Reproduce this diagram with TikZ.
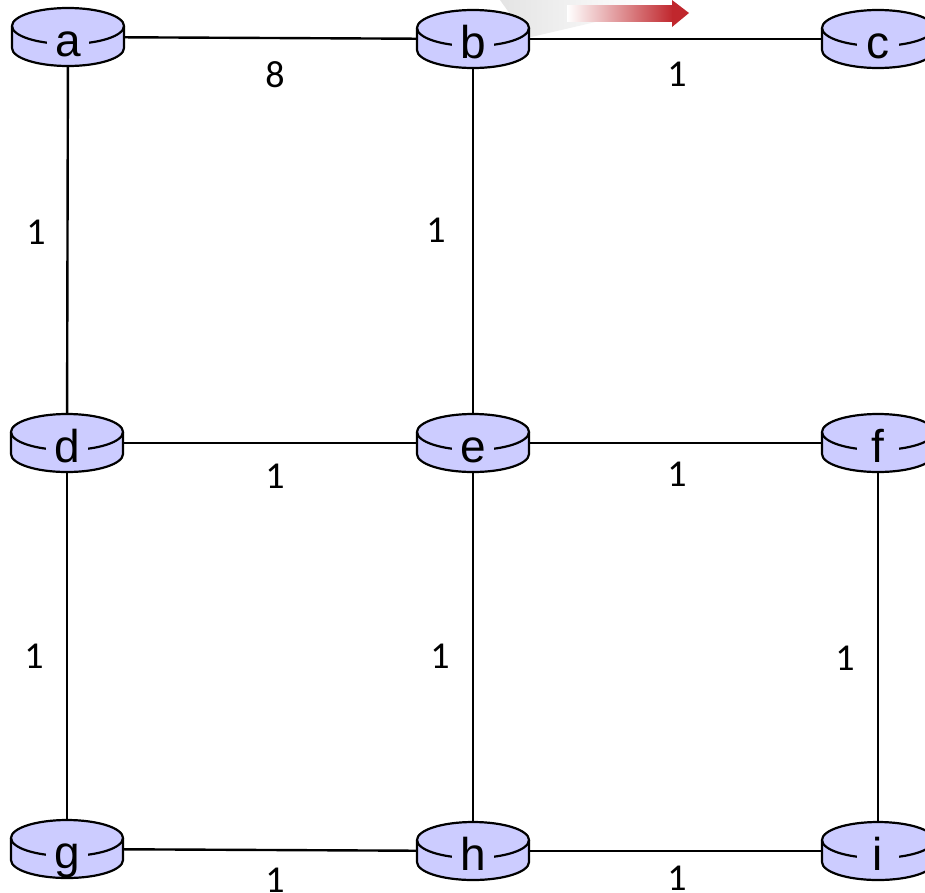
\documentclass[tikz,border=0pt]{standalone}
\usepackage{fontspec}
\setmainfont{Liberation Sans}
\newfontfamily\lblfont{Carlito}
\definecolor{routerblue}{RGB}{204,204,255}
\definecolor{arrowred}{RGB}{192,39,45}
\definecolor{wedgegrey}{RGB}{228,228,228}
\tikzset{
  routerfill/.style={fill=routerblue},
  routerline/.style={draw=black, line width=2.2pt, line join=round},
  routerlabel/.style={fill=routerblue, font=\fontsize{46}{54}\selectfont, anchor=base,
    inner sep=0pt, minimum width=42pt, text height=24pt, text depth=0pt},
  edge/.style={draw=black, line width=2.4pt},
  cost/.style={font=\lblfont\fontsize{38}{46}\selectfont, inner sep=0pt, anchor=center},
  pics/router/.style={code={
    \fill[routerfill] (-56,-11) -- (-56,11)
      arc[start angle=180,end angle=360,x radius=56pt,y radius=18pt]
      -- (56,-11)
      arc[start angle=0,end angle=180,x radius=56pt,y radius=18pt] -- cycle;
    \draw[routerline] (0,-11) ellipse[x radius=56pt,y radius=18pt];
    \draw[routerline] (-56,-11) -- (-56,11)
      arc[start angle=180,end angle=360,x radius=56pt,y radius=18pt] -- (56,-11);
    \node[routerlabel] (-lbl) at (0,19) {#1};
  }}
}
\begin{document}
\begin{tikzpicture}[x=1pt,y=-1pt]
\useasboundingbox (0,0) rectangle (925,892);
\clip (0,0) rectangle (925,892);
% router positions
\coordinate (a) at (68,37);
\coordinate (b) at (473,39);
\coordinate (c) at (878,39);
\coordinate (d) at (67,443);
\coordinate (e) at (473,443);
\coordinate (f) at (878,443);
\coordinate (g) at (67,849);
\coordinate (h) at (473,851);
\coordinate (i) at (878,851);
% links
\draw[edge] (a) -- (b);
\draw[edge] (b) -- (c);
\draw[edge] (a) -- (d);
\draw[edge] (b) -- (e);
\draw[edge] (d) -- (e);
\draw[edge] (e) -- (f);
\draw[edge] (d) -- (g);
\draw[edge] (e) -- (h);
\draw[edge] (f) -- (i);
\draw[edge] (g) -- (h);
\draw[edge] (h) -- (i);
% motion wedge and arrow
\shade[left color=wedgegrey, right color=white]
  (500,0) -- (527,38) -- (600,21) -- (650,0) -- cycle;
\shade[left color=white, right color=arrowred]
  (567,5) rectangle (673,21);
\fill[arrowred] (672,0) -- (689,13) -- (672,27) -- cycle;
% routers
\pic (ra) at (a) {router=a};
\pic (rb) at (b) {router=b};
\pic (rc) at (c) {router=c};
\pic (rd) at (d) {router=d};
\pic (re) at (e) {router=e};
\pic (rf) at (f) {router=f};
\pic (rg) at (g) {router=g};
\pic (rh) at (h) {router=h};
\pic (ri) at (i) {router=i};
% link costs
\node[cost] (lab) at (275,75) {8};
\node[cost] (lbc) at (677,74) {1};
\node[cost] (lad) at (36,232) {1};
\node[cost] (lbe) at (436,230) {1};
\node[cost] (lde) at (275,476) {1};
\node[cost] (lef) at (677,474) {1};
\node[cost] (ldg) at (34,656) {1};
\node[cost] (leh) at (440,656) {1};
\node[cost] (lfi) at (845,658) {1};
\node[cost] (lgh) at (275,880) {1};
\node[cost] (lhi) at (677,878) {1};
\end{tikzpicture}
\end{document}
